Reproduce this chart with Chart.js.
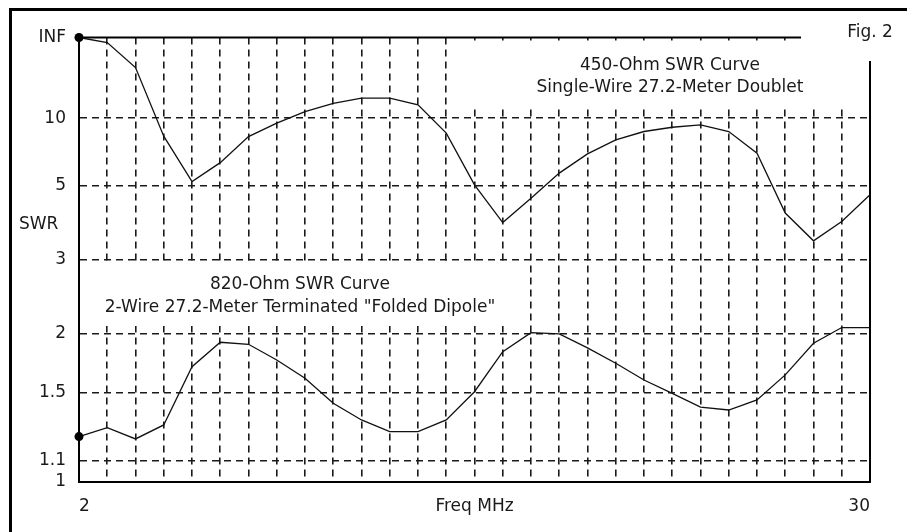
<!DOCTYPE html>
<html>
<head>
<meta charset="utf-8">
<title>Fig. 2 - SWR curves</title>
<script src="https://cdn.jsdelivr.net/npm/chart.js@4.4.1/dist/chart.umd.min.js"></script>
<style>
  html, body { margin: 0; padding: 0; background: #fff; }
  canvas { display: block; }
</style>
</head>
<body>
<canvas id="swrChart" width="907" height="532"></canvas>
<script>
// Frequency points, one per MHz
const freqMHz = [2, 3, 4, 5, 6, 7, 8, 9, 10, 11, 12, 13, 14, 15, 16,
                 17, 18, 19, 20, 21, 22, 23, 24, 25, 26, 27, 28, 29, 30];

// 450-Ohm line, single-wire 27.2 m doublet
const swr450 = [Infinity, 176, 28.6, 8.0, 5.17, 6.1, 7.97, 9.37, 11.0, 12.5, 13.65, 13.65, 12.2, 8.29, 5.03,
                3.8, 4.53, 5.55, 6.63, 7.68, 8.45, 8.9, 9.17, 8.45, 6.68, 4.06, 3.37, 3.83, 4.65];

// 820-Ohm line, 2-wire terminated "folded dipole"
const swr820 = [1.226, 1.277, 1.213, 1.293, 1.699, 1.915, 1.896, 1.755, 1.607, 1.429, 1.323, 1.254, 1.254, 1.323, 1.508,
                1.828, 2.01, 1.997, 1.862, 1.727, 1.594, 1.497, 1.403, 1.385, 1.451, 1.633, 1.906, 2.063, 2.063];

// SWR axis ticks
const swrTicks = [1, 1.1, 1.5, 2, 3, 5, 10, Infinity];
const swrTickLabels = ['1', '1.1', '1.5', '2', '3', '5', '10', 'INF'];

// The SWR axis is linear in reflection coefficient: rho = (SWR-1)/(SWR+1)
function toRho(swr) {
    if (!isFinite(swr)) return 1;
    return (swr - 1) / (swr + 1);
}

const FONT = "'DejaVu Sans', sans-serif";
const INK = '#1a1a1a';
const CLEAR = 'rgba(0,0,0,0)';

// Page frame, solid INF/right lines, label boxes and annotation text
const pagePlugin = {
    id: 'page',
    beforeDraw(chart) {
        const ctx = chart.ctx;
        ctx.save();
        ctx.fillStyle = '#fff';
        ctx.fillRect(0, 0, chart.width, chart.height);
        ctx.fillStyle = '#000';
        ctx.fillRect(9, 8, chart.width - 9, 3);
        ctx.fillRect(9, 8, 3, chart.height - 8);
        ctx.restore();
    },
    beforeDatasetsDraw(chart) {
        const { ctx, chartArea, scales: { y } } = chart;
        const yInf = y.getPixelForValue(1);
        ctx.save();
        ctx.strokeStyle = '#000';
        ctx.lineWidth = 2;
        ctx.beginPath();
        ctx.moveTo(chartArea.left, yInf);
        ctx.lineTo(chartArea.right, yInf);
        ctx.moveTo(chartArea.right, yInf);
        ctx.lineTo(chartArea.right, chartArea.bottom + 1);
        ctx.stroke();

        // white boxes behind the labels
        ctx.fillStyle = '#fff';
        ctx.fillRect(458, yInf + 3, 404, 68);
        ctx.fillRect(801, 12, 106, 49);
        ctx.fillRect(chartArea.left + 2, 262, 438, 64);

        ctx.fillStyle = INK;
        ctx.font = '17px ' + FONT;
        ctx.textBaseline = 'alphabetic';
        ctx.textAlign = 'center';
        ctx.fillText('Fig. 2', 870, 37);
        ctx.fillText('450-Ohm SWR Curve', 670, 70);
        ctx.fillText('Single-Wire 27.2-Meter Doublet', 670, 92);
        ctx.fillText('820-Ohm SWR Curve', 300, 289);
        ctx.fillText('2-Wire 27.2-Meter Terminated "Folded Dipole"', 300, 312);
        ctx.textAlign = 'left';
        ctx.fillText('SWR', 19, 229);
        ctx.restore();
    }
};

function curve(label, values) {
    return {
        label: label,
        data: freqMHz.map((f, i) => ({ x: f, y: toRho(values[i]) })),
        borderColor: '#111',
        borderWidth: 1.3,
        tension: 0,
        fill: false,
        clip: false,
        pointRadius: (c) => c.dataIndex === 0 ? 4.5 : 0,
        pointBackgroundColor: '#000',
        pointBorderWidth: 0
    };
}

const swrChart = new Chart(document.getElementById('swrChart'), {
    type: 'line',
    data: {
        datasets: [
            curve('450-Ohm SWR Curve', swr450),
            curve('820-Ohm SWR Curve', swr820)
        ]
    },
    options: {
        responsive: false,
        animation: false,
        layout: { padding: { top: 37.5, right: 37, left: 0, bottom: 0 } },
        plugins: {
            legend: { display: false },
            tooltip: { enabled: false }
        },
        scales: {
            x: {
                type: 'linear',
                min: 2,
                max: 30,
                afterFit(scale) { scale.height = 50.3; },
                ticks: {
                    stepSize: 1,
                    autoSkip: false,
                    maxRotation: 0,
                    align: 'inner',
                    padding: 15,
                    color: INK,
                    font: { family: FONT, size: 17 },
                    callback: (v) => (v === 2 || v === 30) ? String(v) : ''
                },
                grid: {
                    color: (c) => (c.tick && (c.tick.value === 2 || c.tick.value === 30)) ? CLEAR : INK,
                    lineWidth: 1.6,
                    drawTicks: false
                },
                border: { display: true, color: '#000', width: 2, dash: [7, 5] },
                title: {
                    display: true,
                    text: 'Freq MHz',
                    color: INK,
                    font: { family: FONT, size: 17 },
                    padding: { top: 0, bottom: 15 }
                }
            },
            y: {
                type: 'linear',
                min: 0,
                max: 1,
                afterFit(scale) { scale.width = 79; },
                afterBuildTicks(scale) {
                    scale.ticks = swrTicks.map(s => ({ value: toRho(s) }));
                },
                ticks: {
                    padding: 13,
                    color: INK,
                    font: { family: FONT, size: 17 },
                    callback: (v) => {
                        const i = swrTicks.findIndex(s => Math.abs(toRho(s) - v) < 1e-9);
                        return i >= 0 ? swrTickLabels[i] : '';
                    }
                },
                grid: {
                    color: (c) => (c.tick && (c.tick.value === 0 || c.tick.value === 1)) ? CLEAR : INK,
                    lineWidth: 1.6,
                    drawTicks: false
                },
                border: { display: true, color: '#000', width: 2, dash: [7, 5] }
            }
        }
    },
    plugins: [pagePlugin]
});
</script>
</body>
</html>
